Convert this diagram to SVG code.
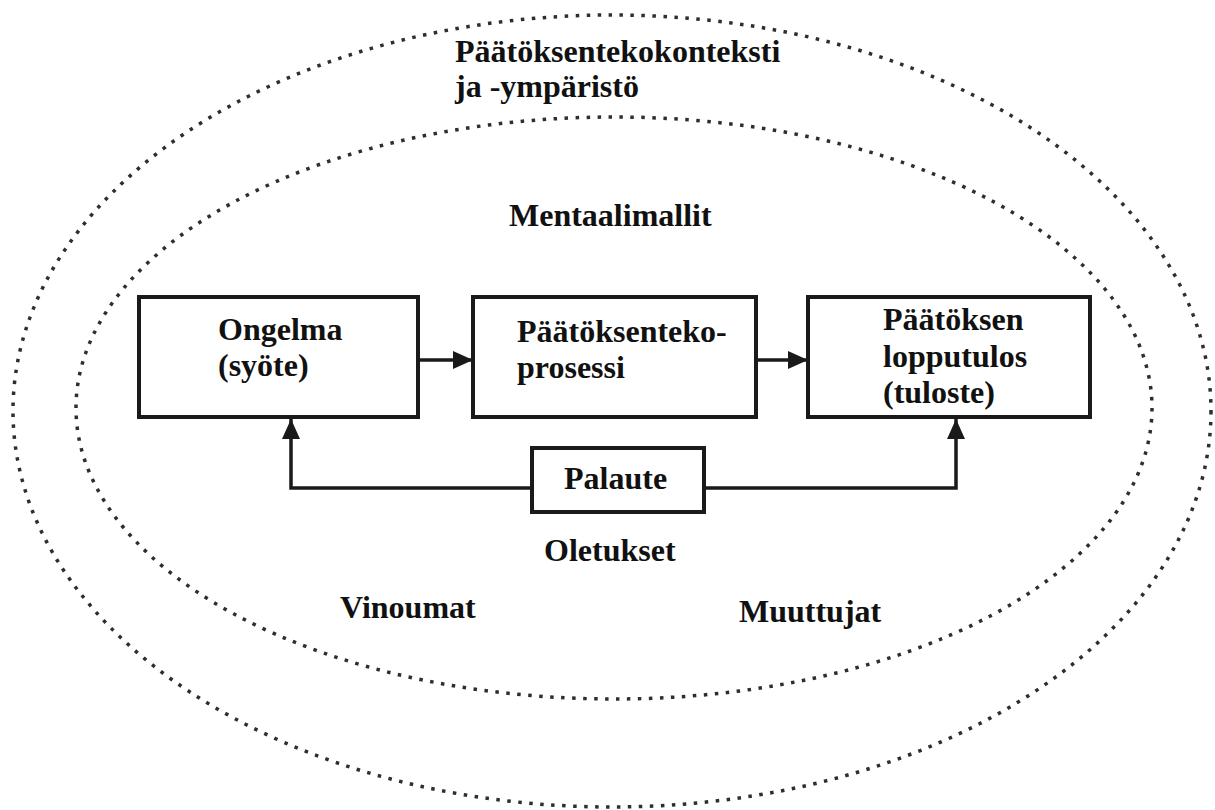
<svg xmlns="http://www.w3.org/2000/svg" width="1215" height="810" viewBox="0 0 1215 810">
<style>
.dot{fill:none;stroke:#2e2e2e;stroke-width:3.5;stroke-dasharray:3.5 7.5}
.box{fill:#fff;stroke:#1a1a1a;stroke-width:4}
.ln{fill:none;stroke:#1a1a1a;stroke-width:3.5}
text{font-family:"Liberation Serif","Times New Roman",serif;font-weight:bold;font-size:32px;fill:#111}
</style>
<defs>
<marker id="ah" markerUnits="userSpaceOnUse" markerWidth="20" markerHeight="18" refX="20" refY="9" orient="auto">
<path d="M0,0 L20,9 L0,18 z" fill="#1a1a1a"/>
</marker>
</defs>
<g id="context">
<ellipse class="dot" cx="612" cy="411" rx="599" ry="396"/>
<text x="455" y="62">Päätöksentekokonteksti</text>
<text x="455" y="97">ja -ympäristö</text>
</g>
<g id="mental-models">
<ellipse class="dot" cx="614" cy="408" rx="538" ry="291"/>
<text x="509" y="226">Mentaalimallit</text>
</g>
<g id="connectors">
<line class="ln" x1="418" y1="360" x2="473" y2="360" marker-end="url(#ah)"/>
<line class="ln" x1="756" y1="360" x2="808" y2="360" marker-end="url(#ah)"/>
<polyline class="ln" points="532,488 291,488 291,419" marker-end="url(#ah)"/>
<polyline class="ln" points="704,488 956,488 956,419" marker-end="url(#ah)"/>
</g>
<g id="ongelma">
<rect class="box" x="139" y="297" width="279" height="120"/>
<text x="218" y="340">Ongelma</text>
<text x="218" y="376">(syöte)</text>
</g>
<g id="prosessi">
<rect class="box" x="473" y="297" width="283" height="120"/>
<text x="517" y="342">Päätöksenteko-</text>
<text x="517" y="378">prosessi</text>
</g>
<g id="lopputulos">
<rect class="box" x="808" y="297" width="282" height="120"/>
<text x="883" y="330">Päätöksen</text>
<text x="883" y="367">lopputulos</text>
<text x="883" y="403">(tuloste)</text>
</g>
<g id="palaute">
<rect class="box" x="532" y="448" width="172" height="64"/>
<text x="564" y="489">Palaute</text>
</g>
<g id="oletukset"><text x="544" y="561">Oletukset</text></g>
<g id="vinoumat"><text x="340" y="618">Vinoumat</text></g>
<g id="muuttujat"><text x="739" y="622">Muuttujat</text></g>
</svg>
